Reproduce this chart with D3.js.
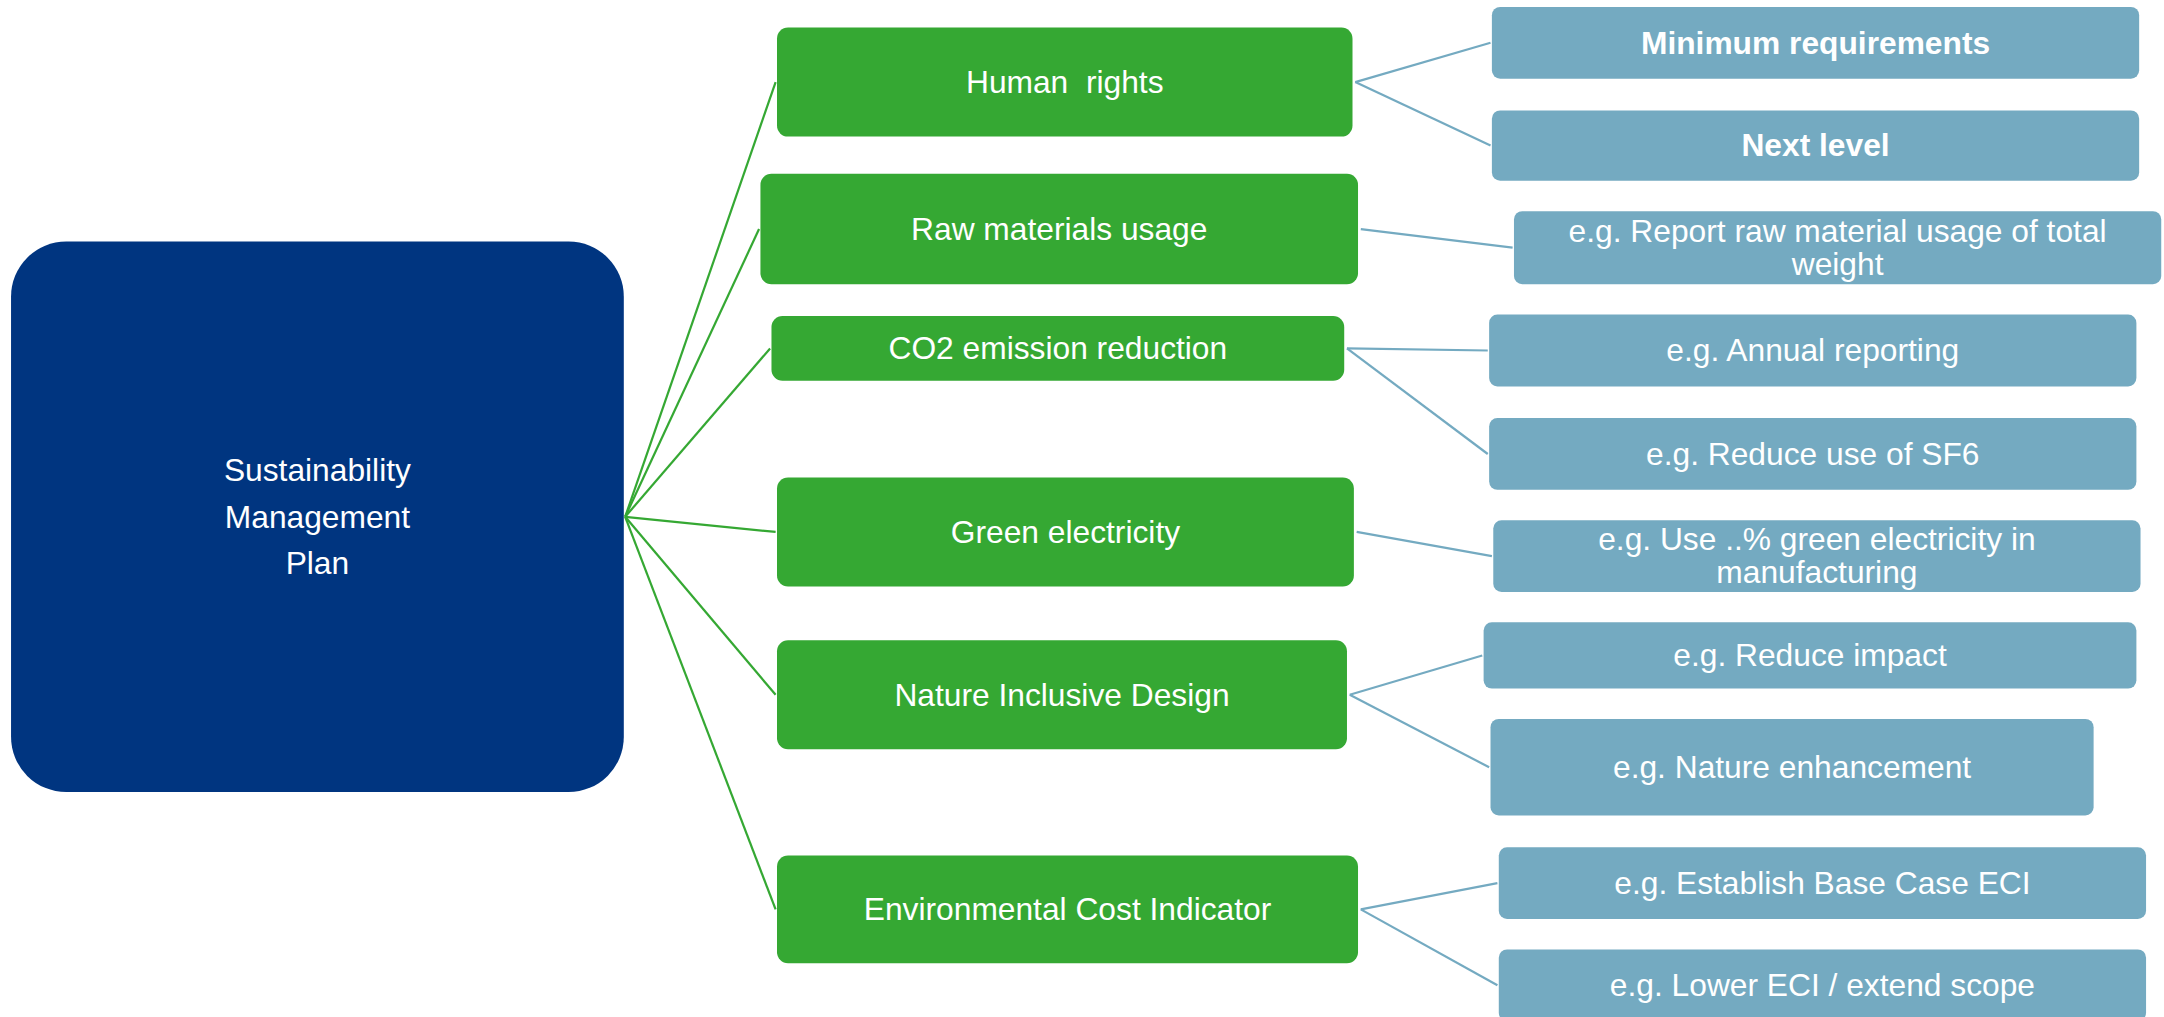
<!DOCTYPE html>
<html>
<head>
<meta charset="utf-8">
<script src="https://cdn.jsdelivr.net/npm/d3@7"></script>
<style>
  html, body { margin: 0; padding: 0; background: #ffffff; }
  svg text { font-family: "Liberation Sans", Arial, sans-serif; fill: #ffffff; white-space: pre; }
</style>
</head>
<body>
<div id="chart"></div>
<script>
// labels
var rootLabel = ["Sustainability", "Management", "Plan"];
var topics = ["Human  rights", "Raw materials usage", "CO2 emission reduction", "Green electricity", "Nature Inclusive Design", "Environmental Cost Indicator"];
var actionTopic = [0, 0, 1, 2, 2, 3, 4, 4, 5, 5];
var actionLabels = [
    ["Minimum requirements"],
    ["Next level"],
    ["e.g. Report raw material usage of total", "weight"],
    ["e.g. Annual reporting"],
    ["e.g. Reduce use of SF6"],
    ["e.g. Use ..% green electricity in", "manufacturing"],
    ["e.g. Reduce impact"],
    ["e.g. Nature enhancement"],
    ["e.g. Establish Base Case ECI"],
    ["e.g. Lower ECI / extend scope"]
];

// layout, in reference units (1568 wide)
var rootBox = [8, 175, 452, 574];
var topicBoxes = [[563, 20, 980, 99], [551, 126, 984, 206], [559, 229, 974, 276], [563, 346, 981, 425], [563, 464, 976, 543], [563, 620, 984, 698]];
var actionBoxes = [[1081, 5, 1550, 57], [1081, 80, 1550, 131], [1097, 153, 1566, 206], [1079, 228, 1548, 280], [1079, 303, 1548, 355],
    [1082, 377, 1551, 429], [1075, 451, 1548, 499], [1080, 521, 1517, 591], [1086, 614, 1555, 666], [1086, 688, 1555, 740]];
var actionBold = [true, true, false, false, false, false, false, false, false, false];

var W = 2164, H = 1017;
var x = d3.scaleLinear().domain([0, 1568]).range([0, W]);
var y = d3.scaleLinear().domain([0, 737]).range([0, H]);
var k = W / 1568;

var svg = d3.select("#chart").append("svg").attr("width", W).attr("height", H);

// connectors
var rootOut = [rootBox[2] + 1, (rootBox[1] + rootBox[3]) / 2];
svg.append("g").selectAll("line").data(topicBoxes).enter().append("line")
    .attr("x1", x(rootOut[0])).attr("y1", y(rootOut[1]))
    .attr("x2", d => x(d[0] - 1)).attr("y2", d => y((d[1] + d[3]) / 2))
    .attr("stroke", "#35a833").attr("stroke-width", 1.6 * k);

svg.append("g").selectAll("line").data(actionBoxes).enter().append("line")
    .attr("x1", (d, i) => x(topicBoxes[actionTopic[i]][2] + 2))
    .attr("y1", (d, i) => y((topicBoxes[actionTopic[i]][1] + topicBoxes[actionTopic[i]][3]) / 2))
    .attr("x2", d => x(d[0] - 1)).attr("y2", d => y((d[1] + d[3]) / 2))
    .attr("stroke", "#74aac1").attr("stroke-width", 1.6 * k);

// boxes with centred multi-line text
function drawBox(g, b, lines, fill, r, lh, bold) {
    g.append("rect").attr("x", x(b[0])).attr("y", y(b[1]))
        .attr("width", x(b[2]) - x(b[0])).attr("height", y(b[3]) - y(b[1]))
        .attr("rx", r * k).attr("ry", r * k)
        .attr("fill", fill);
    var cx = (b[0] + b[2]) / 2, cy = (b[1] + b[3]) / 2;
    lines.forEach((t, i) => {
        g.append("text").attr("x", x(cx)).attr("y", y(cy + (i - (lines.length - 1) / 2) * lh))
            .attr("dy", "0.34em").attr("text-anchor", "middle")
            .attr("font-size", 23 * k).attr("font-weight", bold ? "bold" : "normal").text(t);
    });
}

drawBox(svg.append("g"), rootBox, rootLabel, "#003580", 40, 33.5, false);
topics.forEach((t, i) => drawBox(svg.append("g"), topicBoxes[i], [t], "#35a833", 8, 24, false));
actionLabels.forEach((lines, i) => drawBox(svg.append("g"), actionBoxes[i], lines, "#74aac1", 6, 24, actionBold[i]));
</script>
</body>
</html>
